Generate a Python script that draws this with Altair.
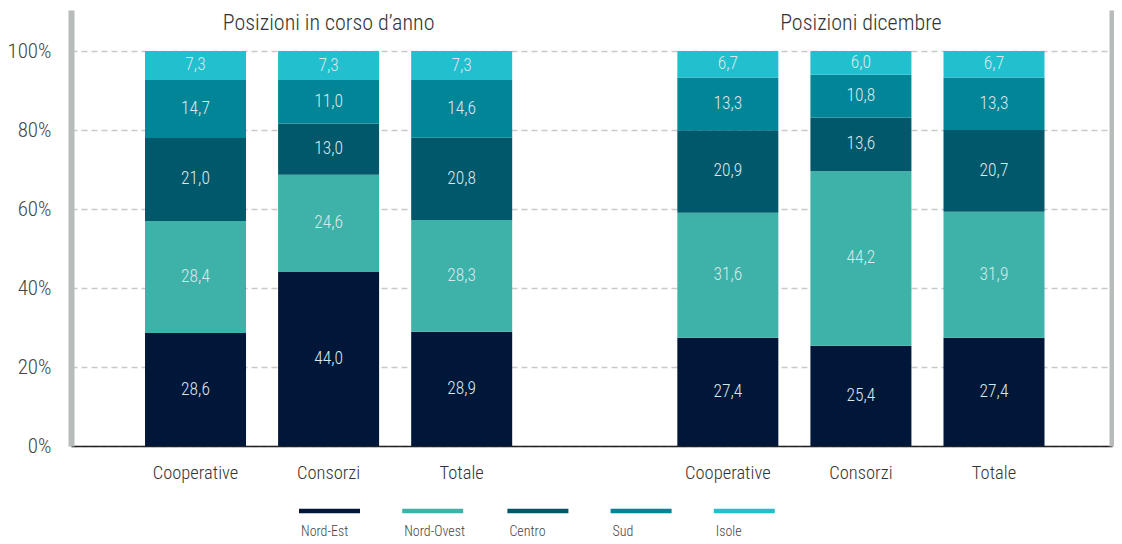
import altair as alt
import pandas as pd

FONT = "Roboto Condensed, Liberation Sans Narrow, Roboto, sans-serif"
WEIGHT = 300

regions = ["Nord-Est", "Nord-Ovest", "Centro", "Sud", "Isole"]
region_colors = ["#00173a", "#3eb1a9", "#02586b", "#028697", "#22bfcf"]

group_titles = ["Posizioni in corso d’anno", "Posizioni dicembre"]
group_keys = ["g1", "g2"]
categories = ["Cooperative", "Consorzi", "Totale"]

corso_cooperative = [28.6, 28.4, 21.0, 14.7, 7.3]
corso_consorzi = [44.0, 24.6, 13.0, 11.0, 7.3]
corso_totale = [28.9, 28.3, 20.8, 14.6, 7.3]

dicembre_cooperative = [27.4, 31.6, 20.9, 13.3, 6.7]
dicembre_consorzi = [25.4, 44.2, 13.6, 10.8, 6.0]
dicembre_totale = [27.4, 31.9, 20.7, 13.3, 6.7]

y_ticks = [0, 0.2, 0.4, 0.6, 0.8, 1.0]

series = {
    ("g1", "Cooperative"): corso_cooperative,
    ("g1", "Consorzi"): corso_consorzi,
    ("g1", "Totale"): corso_totale,
    ("g2", "Cooperative"): dicembre_cooperative,
    ("g2", "Consorzi"): dicembre_consorzi,
    ("g2", "Totale"): dicembre_totale,
}

rows = []
for (g, cat), vals in series.items():
    for i, (reg, v) in enumerate(zip(regions, vals)):
        rows.append({
            "slot": f"{g}_{cat}",
            "region": reg,
            "order": i,
            "value": v,
            "label": f"{v:.1f}".replace(".", ","),
        })
df = pd.DataFrame(rows)

slots = [f"g1_{c}" for c in categories] + ["gap"] + [f"g2_{c}" for c in categories]

titles_df = pd.DataFrame({
    "slot": [f"{g}_Consorzi" for g in group_keys],
    "title": group_titles,
})

YMAX = 1.104
xscale = alt.Scale(domain=slots, paddingInner=0.241, paddingOuter=0.5317, align=0.523)
yscale = alt.Scale(domain=[0, YMAX], nice=False, zero=True)

x_axis = alt.Axis(
    title=None,
    labelExpr="indexof(datum.label, '_') >= 0 ? split(datum.label, '_')[1] : ''",
    labelFont=FONT, labelFontSize=18.5, labelFontWeight=WEIGHT, labelColor="#333333",
    labelPadding=17, ticks=False, tickSize=0,
    domainColor="#222222", domainWidth=1.5, labelAngle=0,
)

stacked = alt.Chart(df).transform_stack(
    stack="value", groupby=["slot"], as_=["y0", "y1"],
    offset="normalize", sort=[alt.SortField("order", order="ascending")],
)

bars = stacked.mark_bar().encode(
    x=alt.X("slot:N", scale=xscale, axis=x_axis, sort=slots),
    y=alt.Y("y0:Q", scale=yscale, axis=alt.Axis(
        title=None, values=y_ticks, format=".0%",
        labelFont=FONT, labelFontSize=21, labelFontWeight=WEIGHT, labelColor="#444444",
        labelPadding=20, ticks=False, tickSize=0,
        domainColor="#b7bbbb", domainWidth=6,
        grid=True, gridColor="#c9c9c9", gridDash=[6, 4], gridWidth=1.5,
    )),
    y2="y1:Q",
    color=alt.Color("region:N", scale=alt.Scale(domain=regions, range=region_colors),
                    sort=regions,
                    legend=alt.Legend(
                        title=None, orient="none", direction="horizontal",
                        legendX=216, legendY=515, columns=5, columnPadding=30.2,
                        symbolType="M1,-4.65H13.2V-3.75H1Z", symbolSize=100,
                        symbolStrokeWidth=0, symbolOpacity=1,
                        labelOffset=0, labelFont=FONT, labelFontSize=14,
                        labelFontWeight=WEIGHT,
                        labelColor="#444444", labelLimit=200,
                    )),
    order=alt.Order("order:Q"),
)

texts = stacked.transform_calculate(
    mid="(datum.y0 + datum.y1) / 2"
).mark_text(font=FONT, fontSize=17.5, fontWeight=WEIGHT, color="#dbe8eb").encode(
    x=alt.X("slot:N", scale=xscale, axis=x_axis, sort=slots),
    y=alt.Y("mid:Q", scale=yscale, axis=alt.Axis(
        orient="right", title=None, labels=False, ticks=False, grid=False,
        domainColor="#b7bbbb", domainWidth=6,
    )),
    text="label:N",
)

titles = alt.Chart(titles_df).mark_text(
    font=FONT, fontSize=22, fontWeight=WEIGHT, color="#333333", baseline="middle"
).encode(
    x=alt.X("slot:N", scale=xscale, axis=x_axis, sort=slots),
    y=alt.Y(datum=1.071, scale=yscale, axis=None),
    text="title:N",
)

chart = alt.layer(bars, texts, titles).resolve_scale(y="independent").properties(
    width=1041, height=436, autosize="none",
    padding={"left": 63, "top": 2, "right": 2, "bottom": 98},
).configure_view(stroke=None)

chart.save("out.html", embed_options={"renderer": "svg", "actions": False})
